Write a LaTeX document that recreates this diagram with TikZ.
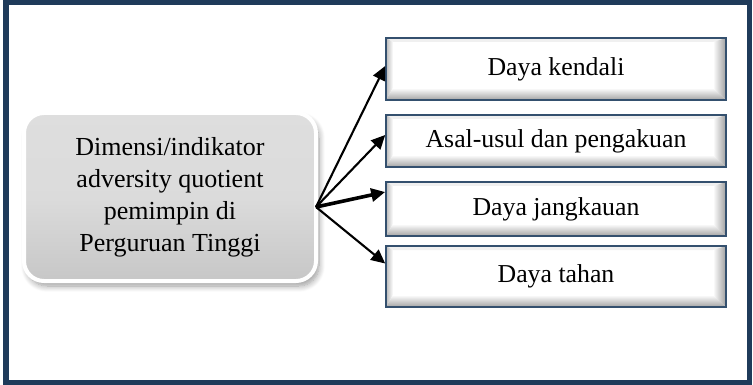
\documentclass[tikz,border=0pt]{standalone}
\usepackage{fontspec}
\setmainfont{Liberation Serif}
\usetikzlibrary{arrows.meta,shadows.blur}
\definecolor{framenavy}{HTML}{1F3B5A}
\definecolor{boxnavy}{HTML}{34506E}
\tikzset{
  bevelbox/.style={draw=boxnavy, line width=1.6pt, fill=white,
    minimum width=340pt, inner sep=0pt, font=\fontsize{25.8}{30}\selectfont,
    path picture={
      % top rim
      \fill[gray!12] (path picture bounding box.north west)
        -- (path picture bounding box.north east)
        -- ([shift={(-12pt,-4pt)}]path picture bounding box.north east)
        -- ([shift={(7pt,-4pt)}]path picture bounding box.north west) -- cycle;
      % left rim
      \shade[left color=gray!55, right color=white]
        (path picture bounding box.north west)
        -- ([shift={(7pt,-4pt)}]path picture bounding box.north west)
        -- ([shift={(7pt,12pt)}]path picture bounding box.south west)
        -- (path picture bounding box.south west) -- cycle;
      % right rim
      \shade[left color=white, right color=gray!75]
        (path picture bounding box.north east)
        -- (path picture bounding box.south east)
        -- ([shift={(-13pt,12pt)}]path picture bounding box.south east)
        -- ([shift={(-13pt,-4pt)}]path picture bounding box.north east) -- cycle;
      % bottom rim
      \shade[top color=white, bottom color=gray!72]
        (path picture bounding box.south west)
        -- (path picture bounding box.south east)
        -- ([shift={(-13pt,12pt)}]path picture bounding box.south east)
        -- ([shift={(7pt,12pt)}]path picture bounding box.south west) -- cycle;
    }},
  hubbox/.style={draw=white, line width=4pt, rounded corners=20pt,
    top color=gray!26, bottom color=gray!44, middle color=gray!28,
    minimum width=292pt, minimum height=168pt, align=center,
    font=\fontsize{26}{32}\selectfont,
    blur shadow={shadow xshift=3pt, shadow yshift=-5pt, shadow blur steps=10,
      shadow blur radius=6pt, shadow opacity=40}},
  link/.style={line width=2.1pt, -{Triangle[length=14pt,width=13pt]}},
  thicklink/.style={line width=3.6pt, -{Triangle[length=14pt,width=13pt]}}
}
\begin{document}
\begin{tikzpicture}[x=1pt,y=-1pt]
  \useasboundingbox (0,0) rectangle (753,385);
  % outer frame
  \draw[framenavy, line width=5.5pt] (5.75,2.75) rectangle (749.5,382.25);

  % central dimension box
  \node[hubbox] (hub) at (170,197)
    {Dimensi/indikator\\adversity quotient\\pemimpin di\\Perguruan Tinggi};

  % indicator boxes
  \node[bevelbox, minimum height=62pt] (b1) at (556,69)
    {\raisebox{3pt}{Daya kendali}};
  \node[bevelbox, minimum height=52pt] (b2) at (556,141)
    {\raisebox{3pt}{Asal-usul dan pengakuan}};
  \node[bevelbox, minimum height=54pt] (b3) at (556,209)
    {\raisebox{2pt}{Daya jangkauan}};
  \node[bevelbox, minimum height=61pt] (b4) at (556,276.5)
    {\raisebox{3pt}{Daya tahan}};

  % connectors fanning out from the right side of the hub
  \coordinate (src) at ([xshift=-2pt,yshift=-10pt]hub.east);
  \draw[link] (src) -- ([yshift=3pt]b1.west);
  \draw[link] (src) -- ([yshift=6pt]b2.west);
  \draw[thicklink] (src) -- ([yshift=17pt]b3.west);
  \draw[link] (src) -- ([yshift=13pt]b4.west);
\end{tikzpicture}
\end{document}
